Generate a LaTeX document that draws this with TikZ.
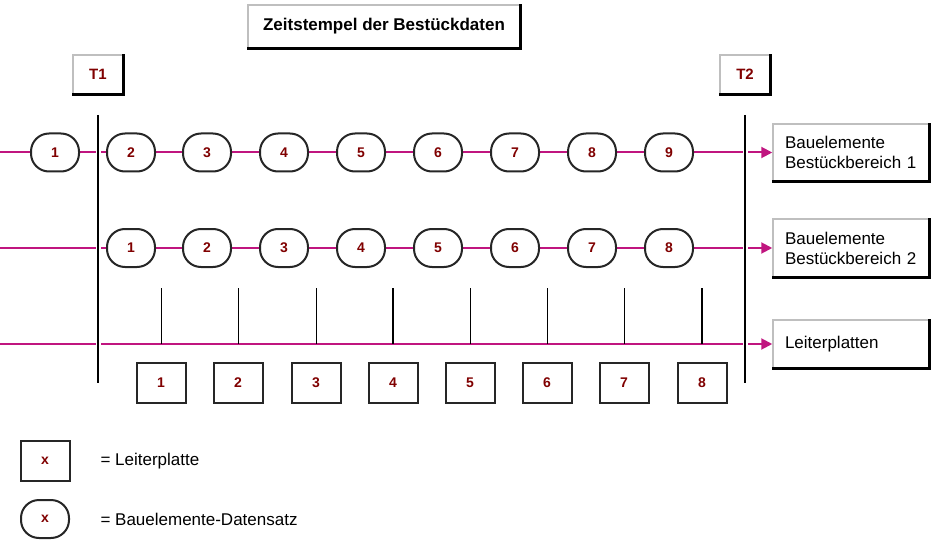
\documentclass[tikz,border=0pt]{standalone}
\usepackage{fontspec}
\setmainfont{Liberation Sans}
\usetikzlibrary{arrows.meta}
\definecolor{flowmag}{RGB}{192,21,127}
\definecolor{numred}{RGB}{128,0,0}

\begin{document}
\begin{tikzpicture}[
    x=1pt, y=-1pt,
    shadowbox/.style={rectangle, draw=black!25, line width=1.5pt, fill=white, inner sep=0pt, align=center},
    shadowedge/.style={line width=3pt},
    labelbox/.style={shadowbox, minimum width=156pt, text width=132pt, inner xsep=12pt, align=left, font=\fontsize{17}{20}\selectfont},
    tbox/.style={shadowbox, minimum width=50pt, minimum height=39pt, font=\fontsize{15}{17}\selectfont\bfseries, text=numred},
    datum/.style={rectangle, rounded corners=18pt, draw=black!85, line width=2pt, fill=white, minimum width=48pt, minimum height=38pt, font=\fontsize{14}{16}\selectfont\bfseries, text=numred},
    board/.style={rectangle, draw=black!85, line width=2pt, fill=white, minimum width=49pt, minimum height=40pt, font=\fontsize{14}{16}\selectfont\bfseries, text=numred},
    flow/.style={flowmag, line width=2pt, -{Triangle[length=11pt, width=11pt]}},
    timeline/.style={black, line width=2pt, preaction={draw=white, line width=5pt}},
    tick/.style={black, line width=1pt},
    legend/.style={anchor=west, font=\fontsize{17}{20}\selectfont}
]
\useasboundingbox (0,0) rectangle (931,548);

% header and time marks
\node[shadowbox, minimum width=272pt, minimum height=43pt, font=\fontsize{17}{20}\selectfont\bfseries] (title) at (384,26.5) {Zeitstempel der Bestückdaten};
\node[tbox] (t1) at (98,74.5) {T1};
\node[tbox] (t2) at (745,74.5) {T2};

% target boxes
\node[labelbox, minimum height=57pt] (area1) at (851,152.5) {Bauelemente\\Bestückbereich 1};
\node[labelbox, minimum height=58pt] (area2) at (851,248) {Bauelemente\\Bestückbereich 2};
\node[labelbox, minimum height=48pt] (pcb) at (851,344) {Leiterplatten};

\foreach \n in {title,t1,t2,area1,area2,pcb}
    \draw[shadowedge] (\n.north east) -- (\n.south east) -- (\n.south west);

% data flows
\coordinate (start1) at (0,152.5);
\coordinate (start2) at (0,248);
\coordinate (start3) at (0,344);
\draw[flow] (start1) -- (area1.west);
\draw[flow] (start2) -- (area2.west);
\draw[flow] (start3) -- (pcb.west);

% placement ticks
\foreach \x in {161,238,316,470,547,624}
    \draw[tick] (\x,288) -- (\x,344);
\foreach \x in {393,702}
    \draw[tick, line width=2pt] (\x,288) -- (\x,344);

% time limits
\coordinate (t1top) at (98,115);
\coordinate (t1bot) at (98,383);
\coordinate (t2top) at (745,115);
\coordinate (t2bot) at (745,383);
\draw[timeline] (t1top) -- (t1bot);
\draw[timeline] (t2top) -- (t2bot);

% component records
\node[datum] (a0) at (55,152.5) {1};
\foreach \x [count=\i from 2] in {131,207,284,361,438,515,592,669}
    \node[datum] (a\i) at (\x,152.5) {\i};
\foreach \x [count=\i] in {131,207,284,361,438,515,592,669}
    \node[datum] (b\i) at (\x,248) {\i};

% circuit boards
\foreach \x [count=\i] in {161,238,316,393,470,547,624,702}
    \node[board] (p\i) at (\x,383) {\i};

% legend
\node[board] (keybox) at (45,461) {x};
\node[datum] (keyrec) at (45,519) {x};
\node[legend] (keyboxtext) at (97,461) {= Leiterplatte};
\node[legend] (keyrectext) at (97,519) {= Bauelemente-Datensatz};

\end{tikzpicture}
\end{document}
